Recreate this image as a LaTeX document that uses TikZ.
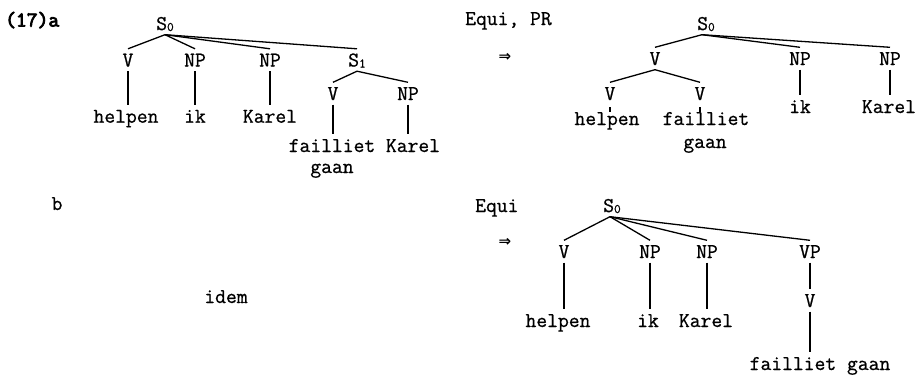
\documentclass[tikz,border=0pt]{standalone}
\usepackage{fontspec}
\setmonofont[FakeBold=0.8]{Latin Modern Mono}
\newfontfamily\ttbold[FakeBold=4]{Latin Modern Mono}
\newfontfamily\symf{DejaVu Sans}
\newcommand\ttw{\ttfamily\fontsize{21}{25}\selectfont}
\newcommand\subn[1]{\raisebox{-1pt}{\fontsize{13}{13}\selectfont #1}}
\begin{document}
\begin{tikzpicture}[x=1pt,y=-1pt,
  lbl/.style={font=\ttw, inner xsep=0pt, inner ysep=4.5pt, text height=13pt, text depth=0pt, anchor=base},
  free/.style={font=\ttw, inner sep=0pt, anchor=base},
  arr/.style={inner sep=0pt, font=\symf\bfseries\fontsize{15}{15}\selectfont},
  br/.style={line width=1.3pt},
  tick/.style={line width=1.3pt, shorten <=2.5pt, shorten >=-4.5pt}]
\useasboundingbox (0,0) rectangle (919,375);

% ---- (17)a, left tree
\node[free, anchor=base west] (ex) at (5,26.5) {\ttbold\fontsize{21}{25}\selectfont (17)a};
\node[lbl] (aS0) at (165,30) {S\subn{0}};
\node[lbl] (aV) at (128,66.5) {V};
\node[lbl] (aNP1) at (195,66.5) {NP};
\node[lbl] (aNP2) at (270,66.5) {NP};
\node[lbl] (aS1) at (357,66.5) {S\subn{1}};
\node[lbl] (aW1) at (126,122.7) {helpen};
\node[lbl] (aW2) at (195,122.7) {ik};
\node[lbl] (aW3) at (270,122.7) {Karel};
\node[lbl] (aV2) at (333,100) {V};
\node[lbl] (aNP3) at (408,100) {NP};
\node[lbl] (aW4) at (332,152) {failliet};
\node[lbl] (aW5) at (413,152) {Karel};
\node[free] (aW6) at (332,173) {gaan};
\foreach \c in {aV,aNP1,aNP2,aS1} \draw[br] (aS0.south) -- (\c.north);
\draw[br] (aV.south) -- (aV.south |- aW1.north);
\draw[br] (aNP1.south) -- (aNP1.south |- aW2.north);
\draw[br] (aNP2.south) -- (aNP2.south |- aW3.north);
\draw[br] (aS1.south) -- (aV2.north);
\draw[br] (aS1.south) -- (aNP3.north);
\draw[br] (aV2.south) -- (aV2.south |- aW4.north);
\draw[br] (aNP3.south) -- (aNP3.south |- aW5.north);

% ---- (17)a, right tree
\node[free, anchor=base west] (rule1) at (465,25) {Equi, PR};
\node[arr] (ar1) at (505,57.5) {⇒};
\node[lbl] (bS0) at (706,30) {S\subn{0}};
\node[lbl] (bV) at (655,65) {V};
\node[lbl] (bNP1) at (800,65) {NP};
\node[lbl] (bNP2) at (890,65) {NP};
\node[lbl] (bV1) at (610,100) {V};
\node[lbl] (bV2) at (700,100) {V};
\node[lbl] (bW1) at (607,125) {helpen};
\node[lbl] (bW2) at (706,125) {failliet};
\node[free] (bW3) at (705,148) {gaan};
\node[lbl] (bW4) at (800,113) {ik};
\node[lbl] (bW5) at (889,113) {Karel};
\foreach \c in {bV,bNP1,bNP2} \draw[br] ([xshift=-4pt]bS0.south) -- (\c.north);
\draw[br] (bV.south) -- (bV1.north);
\draw[br] (bV.south) -- (bV2.north);
\draw[tick] (bV1.south) -- (bV1.south |- bW1.north);
\draw[tick] (bV2.south) -- (bV2.south |- bW2.north);
\draw[br] (bNP1.south) -- (bNP1.south |- bW4.north);
\draw[br] (bNP2.south) -- (bNP2.south |- bW5.north);

% ---- (17)b
\node[free] (exb) at (57,210) {b};
\node[free] (idem) at (226,303) {idem};
\node[free, anchor=base west] (rule2) at (475,212) {Equi};
\node[arr] (ar2) at (505,242.5) {⇒};
\node[lbl] (cS0) at (612,212) {S\subn{0}};
\node[lbl] (cV) at (564,258) {V};
\node[lbl] (cNP1) at (650,258) {NP};
\node[lbl] (cNP2) at (707,258) {NP};
\node[lbl] (cVP) at (810,258) {VP};
\node[lbl] (cV2) at (810,307) {V};
\node[lbl] (cW1) at (558,327) {helpen};
\node[lbl] (cW2) at (648,327) {ik};
\node[lbl] (cW3) at (706,327) {Karel};
\node[lbl] (cW4) at (820,370) {failliet gaan};
\foreach \c in {cV,cNP1,cNP2,cVP} \draw[br] ([xshift=-2pt]cS0.south) -- (\c.north);
\draw[br] (cV.south) -- (cV.south |- cW1.north);
\draw[br] (cNP1.south) -- (cNP1.south |- cW2.north);
\draw[br] (cNP2.south) -- (cNP2.south |- cW3.north);
\draw[br] (cVP.south) -- (cV2.north);
\draw[br] (cV2.south) -- (cV2.south |- cW4.north);
\end{tikzpicture}
\end{document}
